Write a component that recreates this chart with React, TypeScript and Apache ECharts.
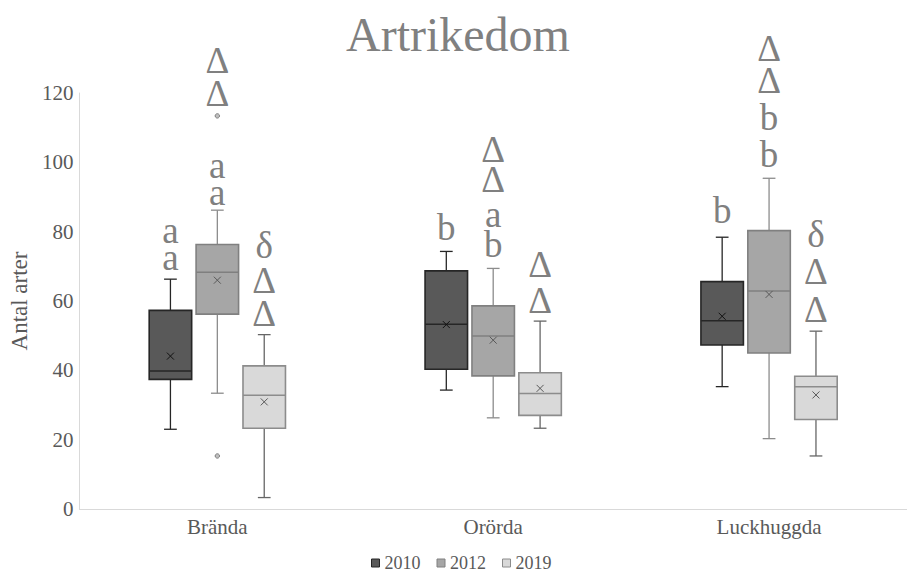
import React, { useEffect, useRef } from "react";
import * as echarts from "echarts";

const categories = ["Brända", "Orörda", "Luckhuggda"];
const years = ["2010", "2012", "2019"];
const yTicks = [0, 20, 40, 60, 80, 100, 120];

// [min, Q1, median, Q3, max] per category
const box2010 = [
  [23, 37.4, 39.8, 57.3, 66.3],
  [34.3, 40.3, 53.3, 68.7, 74.3],
  [35.3, 47.3, 54.3, 65.6, 78.4],
];
const mean2010 = [44.1, 53.2, 55.6];

const box2012 = [
  [33.4, 56.2, 68.3, 76.3, 86.2],
  [26.3, 38.4, 49.9, 58.6, 69.4],
  [20.3, 45.0, 62.9, 80.3, 95.4],
];
const mean2012 = [66.0, 48.7, 61.9];
const outliers2012 = [
  [0, 113.4],
  [0, 15.3],
];

const box2019 = [
  [3.3, 23.3, 32.8, 41.3, 50.3],
  [23.3, 27.0, 33.3, 39.3, 54.2],
  [15.3, 25.8, 35.3, 38.3, 51.3],
];
const mean2019 = [30.9, 34.8, 32.9];

// significance letters: [category, baseline value, text]
const notes2010: [number, number, string][] = [
  [0, 76.6, "a"],
  [0, 68.9, "a"],
  [1, 77.6, "b"],
  [2, 82.4, "b"],
];
const notes2012: [number, number, string][] = [
  [0, 125.7, "Δ"],
  [0, 116.2, "Δ"],
  [0, 95.4, "a"],
  [0, 87.7, "a"],
  [1, 100.2, "Δ"],
  [1, 91.5, "Δ"],
  [1, 81.3, "a"],
  [1, 72.6, "b"],
  [2, 129.2, "Δ"],
  [2, 120.1, "Δ"],
  [2, 109.3, "b"],
  [2, 98.7, "b"],
];
const notes2019: [number, number, string][] = [
  [0, 72.4, "δ"],
  [0, 62.2, "Δ"],
  [0, 52.8, "Δ"],
  [1, 67.0, "Δ"],
  [1, 56.6, "Δ"],
  [2, 75.7, "δ"],
  [2, 64.9, "Δ"],
  [2, 54.0, "Δ"],
];

const FONT = "Liberation Serif";

const styles = [
  { fill: "#595959", border: "#262626", whisker: "#262626", median: "#262626", mean: "#111111", offset: -0.17 },
  { fill: "#a6a6a6", border: "#808080", whisker: "#8c8c8c", median: "#7f7f7f", mean: "#595959", offset: 0 },
  { fill: "#d9d9d9", border: "#8c8c8c", whisker: "#666666", median: "#8c8c8c", mean: "#595959", offset: 0.17 },
];

const BOX_RATIO = 0.154;
const NOTE_SIZE = 37;

function makeBoxRender(st: any) {
  return (params: any, api: any) => {
    const cat = api.value(0);
    const band = api.size([1, 0])[0];
    const cx = api.coord([cat, 0])[0] + st.offset * band;
    const w = band * BOX_RATIO;
    const y = (v: number) => api.coord([cat, v])[1];
    const yMin = y(api.value(1));
    const yQ1 = y(api.value(2));
    const yMed = y(api.value(3));
    const yQ3 = y(api.value(4));
    const yMax = y(api.value(5));
    const yMean = y(api.value(6));
    const cap = w * 0.15;
    const m = 3.5;
    const ws = { stroke: st.whisker, lineWidth: 1.3 };
    return {
      type: "group",
      children: [
        { type: "line", shape: { x1: cx, y1: yMax, x2: cx, y2: yQ3 }, style: ws },
        { type: "line", shape: { x1: cx, y1: yQ1, x2: cx, y2: yMin }, style: ws },
        { type: "line", shape: { x1: cx - cap, y1: yMax, x2: cx + cap, y2: yMax }, style: ws },
        { type: "line", shape: { x1: cx - cap, y1: yMin, x2: cx + cap, y2: yMin }, style: ws },
        {
          type: "rect",
          shape: { x: cx - w / 2, y: yQ3, width: w, height: yQ1 - yQ3 },
          style: { fill: st.fill, stroke: st.border, lineWidth: 1.6 },
        },
        {
          type: "line",
          shape: { x1: cx - w / 2, y1: yMed, x2: cx + w / 2, y2: yMed },
          style: { stroke: st.median, lineWidth: 1.5 },
        },
        {
          type: "line",
          shape: { x1: cx - m, y1: yMean - m, x2: cx + m, y2: yMean + m },
          style: { stroke: st.mean, lineWidth: 1 },
        },
        {
          type: "line",
          shape: { x1: cx - m, y1: yMean + m, x2: cx + m, y2: yMean - m },
          style: { stroke: st.mean, lineWidth: 1 },
        },
      ],
    };
  };
}

function makeNoteRender(st: any, notes: [number, number, string][]) {
  return (params: any, api: any) => {
    const cat = api.value(0);
    const band = api.size([1, 0])[0];
    const cx = api.coord([cat, 0])[0] + st.offset * band;
    const yb = api.coord([cat, api.value(1)])[1];
    const text = notes[params.dataIndex][2];
    return {
      type: "text",
      x: cx,
      y: yb - 0.3375 * NOTE_SIZE,
      style: {
        text,
        fill: "#808080",
        fontSize: NOTE_SIZE,
        fontFamily: FONT,
        align: "center",
        verticalAlign: "middle",
      },
    };
  };
}

function makeOutlierRender(st: any) {
  return (params: any, api: any) => {
    const cat = api.value(0);
    const band = api.size([1, 0])[0];
    const cx = api.coord([cat, 0])[0] + st.offset * band;
    const yv = api.coord([cat, api.value(1)])[1];
    return {
      type: "circle",
      shape: { cx, cy: yv, r: 2.2 },
      style: { fill: "#bfbfbf", stroke: "#7f7f7f", lineWidth: 1 },
    };
  };
}

const boxes = [box2010, box2012, box2019];
const means = [mean2010, mean2012, mean2019];
const notes = [notes2010, notes2012, notes2019];

export default function App() {
  const ref = useRef<HTMLDivElement>(null);
  useEffect(() => {
    if (!ref.current) return;
    const chart = echarts.init(ref.current, undefined, { renderer: "svg" });
    const series: any[] = [];
    years.forEach((yr, i) => {
      const st = styles[i];
      series.push({
        type: "custom",
        name: yr,
        renderItem: makeBoxRender(st),
        itemStyle: { color: st.fill, borderColor: st.border },
        encode: { x: 0, y: [1, 2, 3, 4, 5, 6] },
        data: boxes[i].map((b, c) => [c, ...b, means[i][c]]),
        clip: false,
        z: 2,
      });
    });
    series.push({
      type: "custom",
      renderItem: makeOutlierRender(styles[1]),
      encode: { x: 0, y: 1 },
      data: outliers2012,
      clip: false,
      z: 3,
    });
    years.forEach((yr, i) => {
      series.push({
        type: "custom",
        renderItem: makeNoteRender(styles[i], notes[i]),
        encode: { x: 0, y: 1 },
        data: notes[i].map((n) => [n[0], n[1]]),
        clip: false,
        z: 4,
      });
    });

    chart.setOption({
      animation: false,
      backgroundColor: "#ffffff",
      title: {
        text: "Artrikedom",
        left: 341,
        top: 5,
        textStyle: { fontFamily: FONT, fontSize: 48, fontWeight: "normal", color: "#808080" },
      },
      legend: {
        data: years.map((yr, i) => ({
          name: yr,
          icon: "rect",
          itemStyle: { color: styles[i].fill, borderColor: styles[i].border, borderWidth: 1 },
        })),
        left: 371,
        top: 554,
        padding: 0,
        itemWidth: 8,
        itemHeight: 8,
        itemGap: 16,
        textStyle: { fontFamily: FONT, fontSize: 18, color: "#595959" },
        selectedMode: false,
      },
      grid: { left: 78, top: 93, width: 840, height: 416, containLabel: false },
      xAxis: {
        type: "category",
        data: categories,
        axisLine: { show: true, lineStyle: { color: "#d9d9d9", width: 1 } },
        axisTick: { show: false },
        axisLabel: { fontFamily: FONT, fontSize: 21, color: "#595959", margin: 7 },
        splitLine: { show: false },
      },
      yAxis: {
        type: "value",
        min: yTicks[0],
        max: yTicks[yTicks.length - 1],
        interval: 20,
        name: "Antal arter",
        nameLocation: "middle",
        nameGap: 47,
        nameTextStyle: { fontFamily: FONT, fontSize: 23, color: "#595959" },
        axisLine: { show: true, lineStyle: { color: "#d9d9d9", width: 1 } },
        axisTick: { show: false },
        axisLabel: { fontFamily: FONT, fontSize: 21, color: "#595959", margin: 6 },
        splitLine: { show: false },
      },
      series,
    });
    return () => chart.dispose();
  }, []);
  return (
    <div
      ref={ref}
      style={{ position: "absolute", left: 0, top: 0, width: 907, height: 574 }}
    />
  );
}
